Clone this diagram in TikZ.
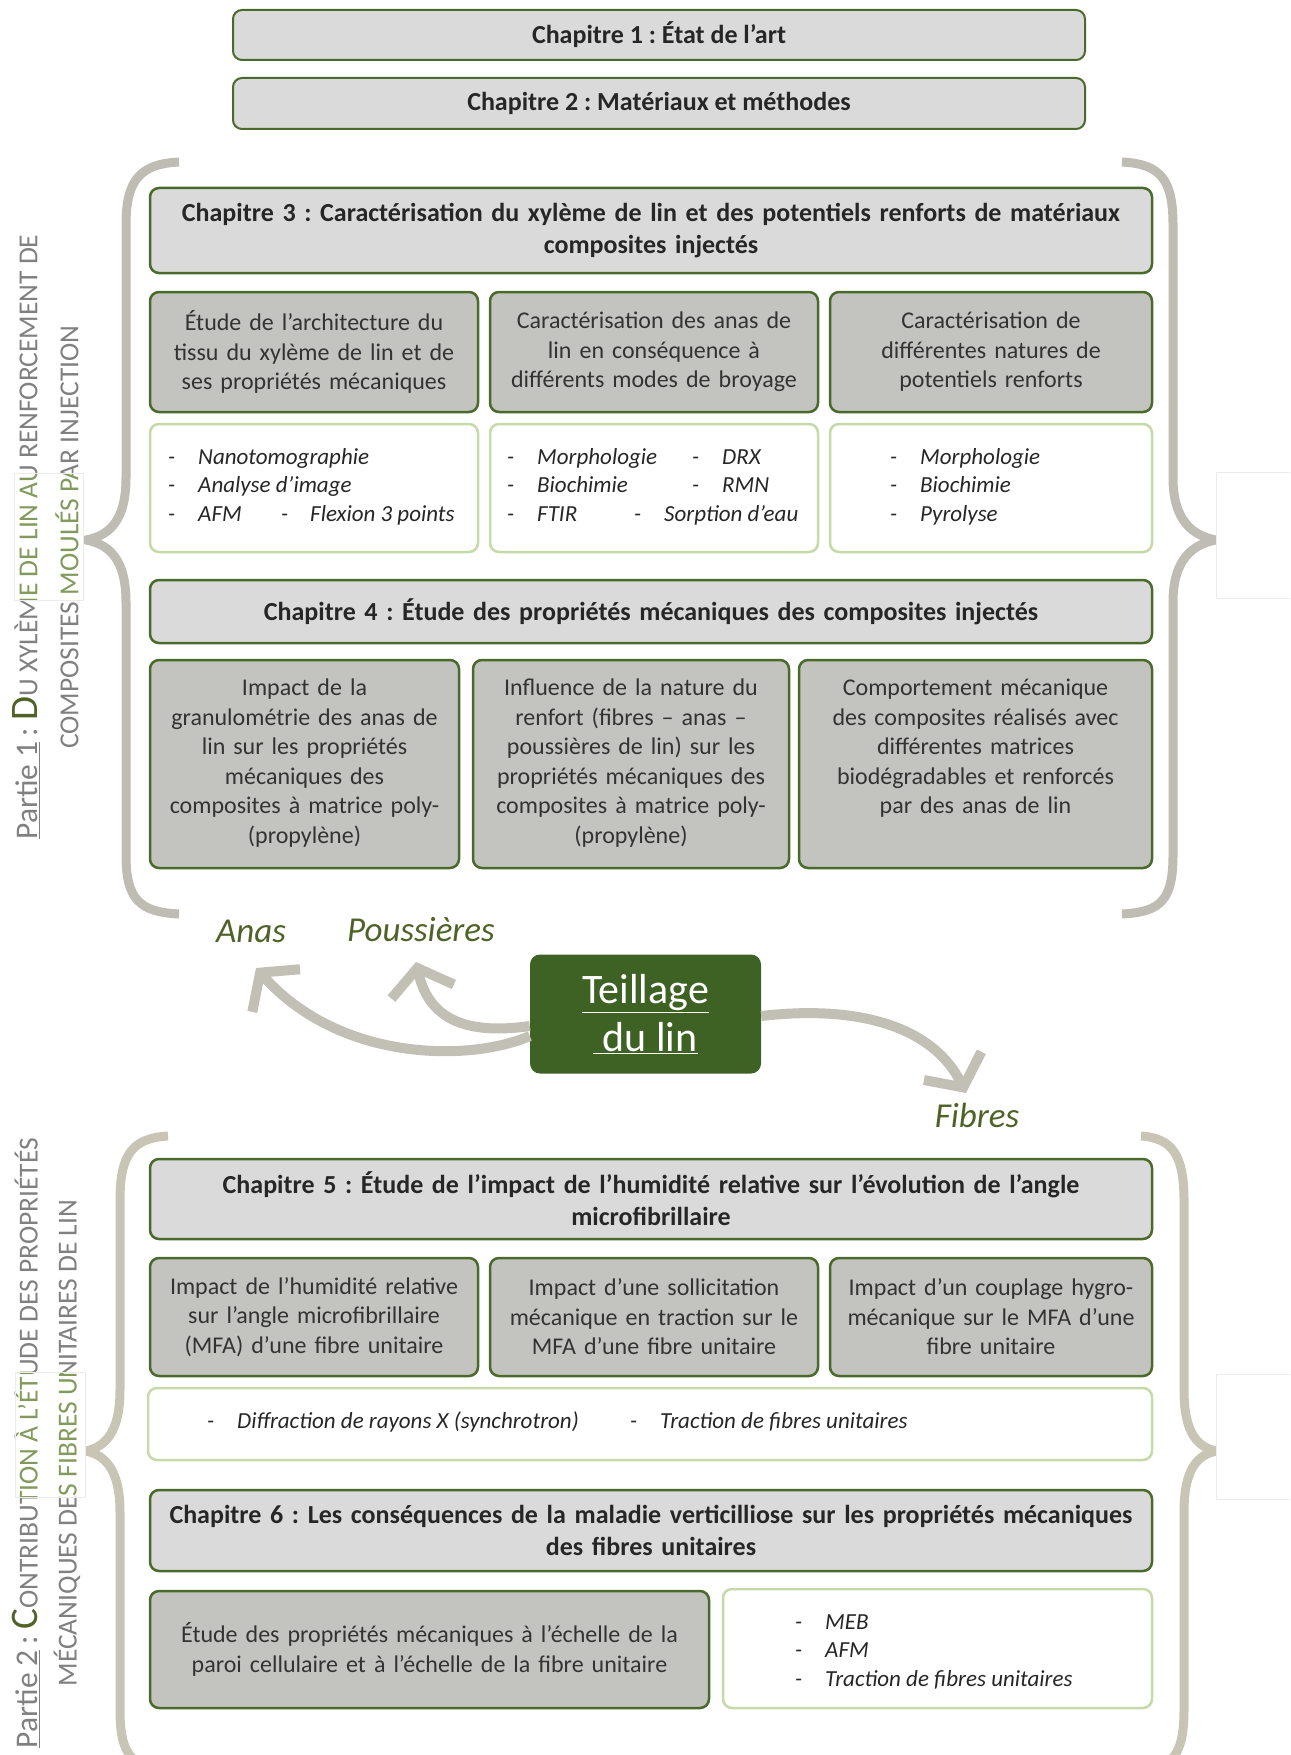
\documentclass[tikz,border=0pt]{standalone}
\usepackage{fontspec}
\setmainfont{Carlito}
\usetikzlibrary{arrows.meta}
\definecolor{chapfill}{HTML}{DADADA}
\definecolor{subfill}{HTML}{C3C4BF}
\definecolor{gborder}{HTML}{4A6A2B}
\definecolor{lborder}{HTML}{C6D9A8}
\definecolor{bracec}{HTML}{BFBCB3}
\definecolor{bracecb}{HTML}{C9C5B4}
\definecolor{arrowc}{HTML}{C2BFB4}
\definecolor{teilc}{HTML}{3E6224}
\definecolor{labc}{HTML}{4F6228}
\definecolor{vtext}{HTML}{808080}
\definecolor{vgreen}{HTML}{829A5C}
\tikzset{
  boxbase/.style={rectangle, rounded corners=9pt, align=center, inner sep=4pt},
  chap/.style={boxbase, draw=gborder, line width=2.5pt, fill=chapfill,
     font=\fontsize{26}{32}\selectfont\bfseries, text=black!85},
  subb/.style={boxbase, draw=gborder, line width=2.5pt, fill=subfill,
     font=\fontsize{24}{29.5}\selectfont, text=black!80},
  lstb/.style={boxbase, draw=lborder, line width=2.5pt, fill=white},
  lsttxt/.style={font=\fontsize{23}{28}\selectfont\itshape, anchor=base west, inner sep=0pt, text=black!85},
  bracel/.style={draw=bracec, line width=9pt, line cap=butt, line join=round},
  flow/.style={draw=arrowc, line width=10pt, -{Straight Barb[length=24pt,width=64pt]}},
  flab/.style={font=\fontsize{35}{40}\selectfont\itshape, text=labc, inner sep=0pt},
  vlab/.style={rotate=90, inner sep=0pt, text=vtext, font=\fontsize{31.5}{34}\selectfont},
  ghost/.style={draw=black!8, line width=0.8pt},
}
\newcommand{\sm}[1]{{\fontsize{27.5}{30}\selectfont #1}}
\newcommand{\partone}[1]{\underline{Partie 1}\,: {\color{#1}\fontsize{39}{40}\selectfont D}\sm{U XYLÈME DE LIN AU RENFORCEMENT DE}}
\newcommand{\partonb}{\sm{COMPOSITES MOULÉS PAR INJECTION}}
\newcommand{\parttwo}[1]{\underline{Partie 2}\,: {\color{#1}\fontsize{39}{40}\selectfont C}\sm{ONTRIBUTION À L’ÉTUDE DES PROPRIÉTÉS}}
\newcommand{\parttwb}{\sm{MÉCANIQUES DES FIBRES UNITAIRES DE LIN}}
\begin{document}
\frenchspacing
\begin{tikzpicture}[x=1pt,y=-1pt]
\useasboundingbox (0,0) rectangle (1290,1755);
\clip (0,0) rectangle (1290,1755);

% ---- braces ----
\draw[bracel] (179,162) .. controls (140,164) and (126,180) .. (126,225) -- (126,478)
   .. controls (126,522) and (108,536) .. (86,540)
   .. controls (108,544) and (126,558) .. (126,602) -- (126,855)
   .. controls (126,900) and (140,912) .. (179,914);
\draw[bracel] (1122,162) .. controls (1161,164) and (1173,180) .. (1173,225) -- (1173,478)
   .. controls (1173,522) and (1194,536) .. (1216,540)
   .. controls (1194,544) and (1173,558) .. (1173,602) -- (1173,855)
   .. controls (1173,900) and (1161,912) .. (1122,914);
\draw[bracel, draw=bracecb] (168,1136) .. controls (132,1138) and (120,1155) .. (120,1200) -- (120,1390)
   .. controls (120,1434) and (104,1447) .. (86,1451)
   .. controls (104,1455) and (120,1468) .. (120,1512) -- (120,1710)
   .. controls (120,1755) and (132,1768) .. (168,1770);
\draw[bracel, draw=bracecb] (1141,1136) .. controls (1172,1138) and (1184,1155) .. (1184,1200) -- (1184,1390)
   .. controls (1184,1434) and (1198,1447) .. (1216,1451)
   .. controls (1198,1455) and (1184,1468) .. (1184,1512) -- (1184,1710)
   .. controls (1184,1755) and (1172,1768) .. (1141,1770);

% faint artefact frames (right)
\draw[ghost, fill=white] (1216,472) rectangle (1295,598);
\draw[ghost, fill=white] (1216,1374) rectangle (1295,1499);

% ---- vertical part titles ----
\node[vlab] (p1a) at (26,537) {\partone{labc}};
\node[vlab] (p1b) at (67,537) {\partonb};
\node[vlab] (p2a) at (26,1443) {\parttwo{labc}};
\node[vlab] (p2b) at (67,1443) {\parttwb};
% tinted overlay frames (left)
\begin{scope}
  \clip (14,473) rectangle (83,600);
  \fill[white] (14,473) rectangle (83,600);
  \node[vlab, text=vgreen] (p1ag) at (26,537) {\partone{vgreen}};
  \node[vlab, text=vgreen] (p1bg) at (67,537) {\partonb};
\end{scope}
\draw[ghost] (14,473) rectangle (83,600);
\begin{scope}
  \clip (15,1372) rectangle (85,1497);
  \fill[white] (15,1372) rectangle (85,1497);
  \node[vlab, text=vgreen] (p2ag) at (26,1443) {\parttwo{vgreen}};
  \node[vlab, text=vgreen] (p2bg) at (67,1443) {\parttwb};
\end{scope}
\draw[ghost] (15,1372) rectangle (85,1497);

% ---- chapters 1, 2 ----
\node[chap, line width=2pt, minimum width=852pt, minimum height=50pt] (c1) at (659,35) {Chapitre 1 : État de l’art};
\node[chap, line width=2pt, minimum width=852pt, minimum height=51pt] (c2) at (659,103.5) {Chapitre 2 : Matériaux et méthodes};

% ---- chapter 3 ----
\node[chap, minimum width=1002pt, minimum height=85pt, text width=990pt] (c3) at (651,230.5)
  {Chapitre 3 : Caractérisation du xylème de lin et des potentiels renforts de matériaux\\ composites injectés};
\node[subb, minimum width=328pt, minimum height=120pt, text width=316pt] (c3a) at (314,352)
  {Étude de l’architecture du\\ tissu du xylème de lin et de\\ ses propriétés mécaniques};
\node[subb, minimum width=328pt, minimum height=120pt, text width=316pt] (c3b) at (654,352)
  {Caractérisation des anas de\\ lin en conséquence à\\ différents modes de broyage};
\node[subb, minimum width=322pt, minimum height=120pt, text width=310pt] (c3c) at (991,352)
  {Caractérisation de\\ différentes natures de\\ potentiels renforts};
\node[lstb, minimum width=328pt, minimum height=128pt] (l3a) at (314,488) {};
\node[lstb, minimum width=328pt, minimum height=128pt] (l3b) at (654,488) {};
\node[lstb, minimum width=322pt, minimum height=128pt] (l3c) at (991,488) {};
% list 3a
\node[lsttxt] (t1d) at (168,464) {-}; \node[lsttxt] (t1) at (198,464) {Nanotomographie};
\node[lsttxt] (t2d) at (168,492) {-}; \node[lsttxt] (t2) at (198,492) {Analyse d’image};
\node[lsttxt] (t3d) at (168,521) {-}; \node[lsttxt] (t3) at (198,521) {AFM};
\node[lsttxt] (t4d) at (281,521) {-}; \node[lsttxt] (t4) at (310,521) {Flexion 3 points};
% list 3b
\node[lsttxt] (u1d) at (507,464) {-}; \node[lsttxt] (u1) at (537,464) {Morphologie};
\node[lsttxt] (u2d) at (507,492) {-}; \node[lsttxt] (u2) at (537,492) {Biochimie};
\node[lsttxt] (u3d) at (507,521) {-}; \node[lsttxt] (u3) at (537,521) {FTIR};
\node[lsttxt] (u4d) at (692,464) {-}; \node[lsttxt] (u4) at (722,464) {DRX};
\node[lsttxt] (u5d) at (692,492) {-}; \node[lsttxt] (u5) at (722,492) {RMN};
\node[lsttxt] (u6d) at (634,521) {-}; \node[lsttxt] (u6) at (664,521) {Sorption d’eau};
% list 3c
\node[lsttxt] (v1d) at (890,464) {-}; \node[lsttxt] (v1) at (920,464) {Morphologie};
\node[lsttxt] (v2d) at (890,492) {-}; \node[lsttxt] (v2) at (920,492) {Biochimie};
\node[lsttxt] (v3d) at (890,521) {-}; \node[lsttxt] (v3) at (920,521) {Pyrolyse};

% ---- chapter 4 ----
\node[chap, minimum width=1002pt, minimum height=63pt, text width=990pt] (c4) at (651,611.5)
  {Chapitre 4 : Étude des propriétés mécaniques des composites injectés};
\node[subb, minimum width=309pt, minimum height=208pt] (c4a) at (304.5,764) {};
\node[subb, minimum width=316pt, minimum height=208pt] (c4b) at (631,764) {};
\node[subb, minimum width=353pt, minimum height=208pt] (c4c) at (975.5,764) {};
\node[subb, draw=none, fill=none, anchor=north, text width=300pt] (c4at) at (304.5,674)
  {Impact de la\\ granulométrie des anas de\\ lin sur les propriétés\\ mécaniques des\\ composites à matrice poly-\\ (propylène)};
\node[subb, draw=none, fill=none, anchor=north, text width=306pt] (c4bt) at (631,674)
  {Influence de la nature du\\ renfort (fibres – anas –\\ poussières de lin) sur les\\ propriétés mécaniques des\\ composites à matrice poly-\\ (propylène)};
\node[subb, draw=none, fill=none, anchor=north, text width=340pt] (c4ct) at (975.5,674)
  {Comportement mécanique\\ des composites réalisés avec\\ différentes matrices\\ biodégradables et renforcés\\ par des anas de lin};

% ---- Teillage ----
\node[rectangle, rounded corners=10pt, fill=teilc, minimum width=231pt, minimum height=119pt,
   align=center, text=white, font=\fontsize{42}{48}\selectfont] (teil) at (645.5,1014)
   {\underline{Teillage}\\ \underline{\ du lin}};
\node[flab] (anas) at (251,931) {Anas};
\node[flab] (pous) at (421,930) {Poussières};
\node[flab] (fib) at (977,1115) {Fibres};
\coordinate (anasT) at (256,968);
\coordinate (pousT) at (416,962);
\coordinate (fibT) at (966,1093);
\draw[flow] ([yshift=-22pt]teil.west) .. controls (470,1062) and (340,1062) .. (anasT);
\draw[flow] ([yshift=-12pt]teil.west) .. controls (460,1036) and (428,1015) .. (pousT);
\draw[flow] ([yshift=-2pt]teil.east) .. controls (865,1004) and (935,1030) .. (fibT);

% ---- chapter 5 ----
\node[chap, minimum width=1002pt, minimum height=80pt, text width=990pt] (c5) at (651,1199)
  {Chapitre 5 : Étude de l’impact de l’humidité relative sur l’évolution de l’angle\\ microfibrillaire};
\node[subb, minimum width=328pt, minimum height=118pt, text width=316pt] (c5a) at (314,1317)
  {Impact de l’humidité relative\\ sur l’angle microfibrillaire\\ (MFA) d’une fibre unitaire};
\node[subb, minimum width=328pt, minimum height=118pt, text width=316pt] (c5b) at (654,1317)
  {Impact d’une sollicitation\\ mécanique en traction sur le\\ MFA d’une fibre unitaire};
\node[subb, minimum width=322pt, minimum height=118pt, text width=310pt] (c5c) at (991,1317)
  {Impact d’un couplage hygro-\\ mécanique sur le MFA d’une\\ fibre unitaire};
\node[lstb, minimum width=1004pt, minimum height=72pt] (l5) at (650,1424) {};
\node[lsttxt] (w1d) at (207,1428) {-}; \node[lsttxt] (w1) at (237,1428) {Diffraction de rayons X (synchrotron)};
\node[lsttxt] (w2d) at (630,1428) {-}; \node[lsttxt] (w2) at (660,1428) {Traction de fibres unitaires};

% ---- chapter 6 ----
\node[chap, minimum width=1002pt, minimum height=81pt, text width=990pt] (c6) at (651,1530.5)
  {Chapitre 6 : Les conséquences de la maladie verticilliose sur les propriétés mécaniques\\ des fibres unitaires};
\node[subb, minimum width=559pt, minimum height=117pt, text width=545pt] (c6a) at (429.5,1649.5)
  {Étude des propriétés mécaniques à l’échelle de la\\ paroi cellulaire et à l’échelle de la fibre unitaire};
\node[lstb, minimum width=429pt, minimum height=119pt] (l6) at (937.5,1648.5) {};
\node[lsttxt] (x1d) at (795,1629) {-}; \node[lsttxt] (x1) at (825,1629) {MEB};
\node[lsttxt] (x2d) at (795,1657) {-}; \node[lsttxt] (x2) at (825,1657) {AFM};
\node[lsttxt] (x3d) at (795,1686) {-}; \node[lsttxt] (x3) at (825,1686) {Traction de fibres unitaires};
\end{tikzpicture}
\end{document}
